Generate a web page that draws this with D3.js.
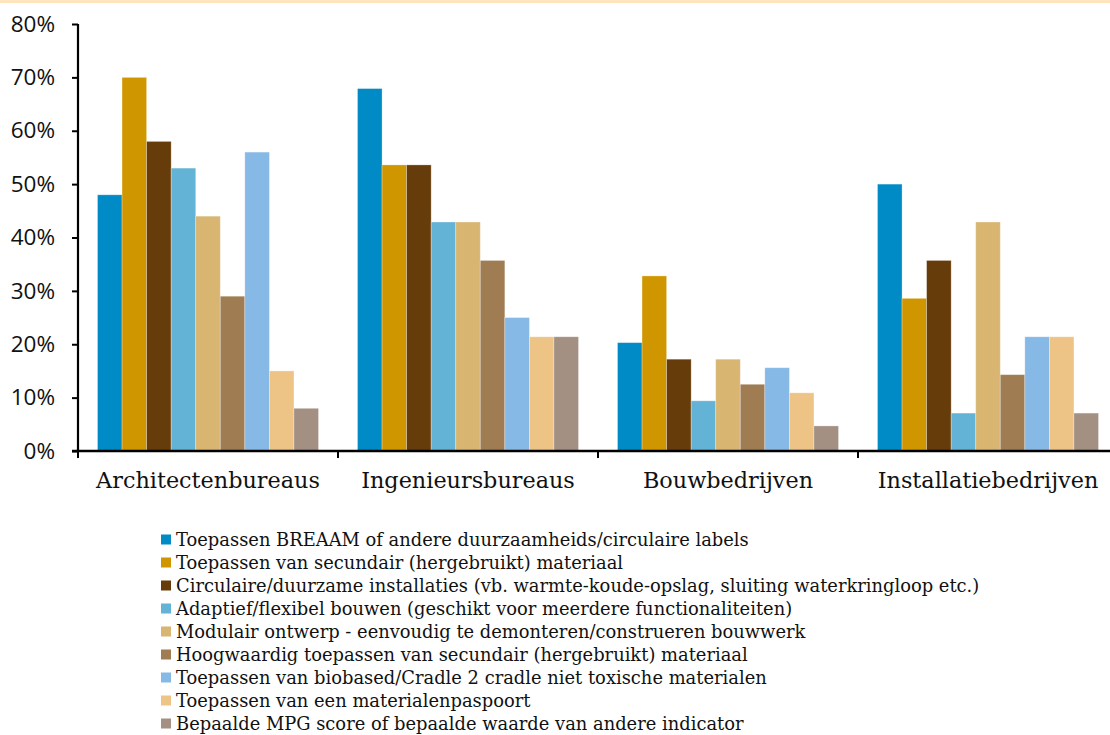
<!DOCTYPE html>
<html>
<head>
<meta charset="utf-8">
<script src="https://cdn.jsdelivr.net/npm/d3@7"></script>
<style>
  html, body { margin: 0; padding: 0; background: #fff; }
  svg { display: block; }
</style>
</head>
<body>
<svg id="chart" width="1110" height="735"></svg>
<script>
const categories = ["Architectenbureaus", "Ingenieursbureaus", "Bouwbedrijven", "Installatiebedrijven"];
const seriesNames = [
  "Toepassen BREAAM of andere duurzaamheids/circulaire labels",
  "Toepassen van secundair (hergebruikt) materiaal",
  "Circulaire/duurzame installaties (vb. warmte-koude-opslag, sluiting waterkringloop etc.)",
  "Adaptief/flexibel bouwen (geschikt voor meerdere functionaliteiten)",
  "Modulair ontwerp - eenvoudig te demonteren/construeren bouwwerk",
  "Hoogwaardig toepassen van secundair (hergebruikt) materiaal",
  "Toepassen van biobased/Cradle 2 cradle niet toxische materialen",
  "Toepassen van een materialenpaspoort",
  "Bepaalde MPG score of bepaalde waarde van andere indicator"
];
const seriesColors = ["#008bc7", "#cf9600", "#663c0a", "#63b3d6", "#d8b672", "#a07c52", "#86b9e6", "#eec386", "#a39083"];
// values per series, in category order (percent)
const s1 = [48.0, 67.9, 20.3, 50.0];
const s2 = [70.0, 53.6, 32.8, 28.6];
const s3 = [58.0, 53.6, 17.2, 35.7];
const s4 = [53.0, 42.9, 9.4, 7.1];
const s5 = [44.0, 42.9, 17.2, 42.9];
const s6 = [29.0, 35.7, 12.5, 14.3];
const s7 = [56.0, 25.0, 15.6, 21.4];
const s8 = [15.0, 21.4, 10.9, 21.4];
const s9 = [8.0, 21.4, 4.7, 7.1];
const seriesValues = [s1, s2, s3, s4, s5, s6, s7, s8, s9];
const yTicks = [0, 10, 20, 30, 40, 50, 60, 70, 80];

const svg = d3.select("#chart");

// top band
svg.append("rect").attr("x", 0).attr("y", 0).attr("width", 1110).attr("height", 3).attr("fill", "#fde6bf");

const x0 = 78, x1 = 1118, yTop = 24, yBot = 451;
const x = d3.scaleBand().domain(categories).range([x0, x1]).paddingInner(0).paddingOuter(0);
const xs = d3.scaleBand().domain(d3.range(seriesNames.length)).range([19.5, x.bandwidth() - 19.5]).padding(0);
const y = d3.scaleLinear().domain([0, 80]).range([yBot, yTop]);

// bars
const groups = svg.append("g").selectAll("g").data(categories).join("g")
  .attr("transform", d => `translate(${x(d)},0)`);
groups.selectAll("rect")
  .data((c, ci) => seriesValues.map((vals, si) => ({si, v: vals[ci]})))
  .join("rect")
  .attr("x", d => xs(d.si))
  .attr("width", xs.bandwidth())
  .attr("y", d => y(d.v))
  .attr("height", d => yBot - y(d.v))
  .attr("fill", d => seriesColors[d.si])
  .attr("stroke", "rgba(255,255,255,0.35)")
  .attr("stroke-width", 0.8);

// y axis
const yAxis = svg.append("g").attr("transform", `translate(${x0},0)`)
  .call(d3.axisLeft(y).tickValues(yTicks).tickSize(6).tickPadding(17).tickFormat(d => d + "%"));
yAxis.select(".domain").attr("stroke", "#000").attr("stroke-width", 2.2).attr("d", `M0,${yTop}V${yBot}`);
yAxis.selectAll(".tick line").attr("stroke", "#000").attr("stroke-width", 2);
yAxis.selectAll(".tick text").attr("font-family", "'Open Sans', sans-serif").attr("font-size", 22.5).attr("fill", "#111");

// x axis
const boundaries = [x0, x0 + x.bandwidth(), x0 + 2 * x.bandwidth(), x0 + 3 * x.bandwidth()];
const xa = svg.append("g");
xa.append("line").attr("x1", x0 - 6).attr("x2", x1).attr("y1", yBot).attr("y2", yBot).attr("stroke", "#000").attr("stroke-width", 2.4);
xa.selectAll("line.t").data(boundaries).join("line").attr("class", "t")
  .attr("x1", d => d).attr("x2", d => d).attr("y1", yBot).attr("y2", yBot + 7)
  .attr("stroke", "#000").attr("stroke-width", 2);
const catLabels = xa.selectAll("text").data(categories).join("text")
  .attr("x", d => x(d) + x.bandwidth() / 2)
  .attr("y", 488)
  .attr("text-anchor", "middle")
  .attr("font-family", "'DejaVu Serif', serif")
  .attr("font-size", 20)
  .attr("fill", "#111")
  .text(d => d);
{
  const w = catLabels.node().getComputedTextLength();
  catLabels.attr("font-size", 20 * 224 / w);
}

// legend
const lg = svg.append("g");
const rowY = i => 539.5 + i * 23.0;
lg.selectAll("rect").data(seriesNames).join("rect")
  .attr("x", 161).attr("y", (d, i) => rowY(i) - 5).attr("width", 10).attr("height", 10)
  .attr("fill", (d, i) => seriesColors[i]);
const lt = lg.selectAll("text").data(seriesNames).join("text")
  .attr("x", 176).attr("y", (d, i) => rowY(i) + 6)
  .attr("font-family", "'DejaVu Serif', serif")
  .attr("font-size", 17)
  .attr("fill", "#111")
  .text(d => d);
{
  const w = lt.node().getComputedTextLength();
  lt.attr("font-size", 17 * 573 / w);
}
</script>
</body>
</html>
